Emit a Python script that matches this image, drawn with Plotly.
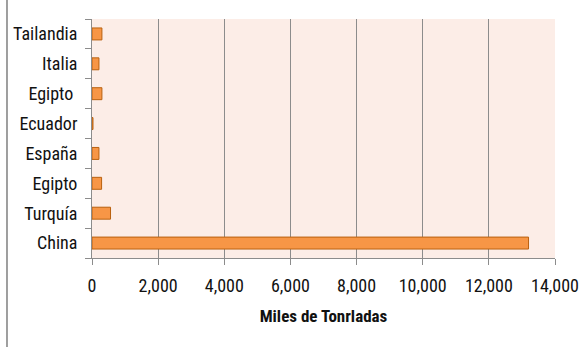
import plotly.graph_objects as go

# Producción por país (miles de toneladas)
paises = ["China", "Turquía", "Egipto", "España", "Ecuador", "Egipto ", "Italia", "Tailandia"]
valores = [13200, 560, 290, 210, 30, 300, 210, 300]
x_ticks = [0, 2000, 4000, 6000, 8000, 10000, 12000, 14000]
x_ticktext = ["0", "2,000", "4,000", "6,000", "8,000", "10,000", "12,000", "14,000"]

font_family = "Liberation Sans Narrow, Roboto Condensed, Arial Narrow, sans-serif"

fig = go.Figure(
    go.Bar(
        x=valores,
        y=paises,
        orientation="h",
        width=0.4,
        marker=dict(color="#F79646", line=dict(color="#B9610F", width=1)),
        hoverinfo="x+y",
    )
)

fig.update_layout(
    width=587,
    height=347,
    margin=dict(l=92, r=32, t=19, b=89),
    paper_bgcolor="white",
    plot_bgcolor="#FCEDE7",
    showlegend=False,
    font=dict(family=font_family, size=18, color="#111111"),
    bargap=0.6,
)

fig.update_xaxes(
    range=[0, 14000],
    tickvals=x_ticks,
    ticktext=x_ticktext,
    showgrid=True,
    gridcolor="#8C8C8C",
    gridwidth=1,
    zeroline=False,
    showline=True,
    linecolor="#8C8C8C",
    ticks="outside",
    ticklen=6,
    tickcolor="#8C8C8C",
    tickfont=dict(size=18),
    ticklabelstandoff=5,
    automargin=False,
    title=dict(
        text="<b>Miles de Tonrladas</b>",
        font=dict(size=17, family=font_family),
        standoff=15,
    ),
)

fig.update_yaxes(
    showline=True,
    linecolor="#8C8C8C",
    ticks="outside",
    tickson="boundaries",
    ticklen=6,
    tickcolor="#8C8C8C",
    showgrid=False,
    tickfont=dict(size=18),
    ticklabelstandoff=10,
    automargin=False,
)

# Left border line of the figure
fig.add_shape(
    type="line",
    xref="paper",
    yref="paper",
    x0=-0.1836,
    x1=-0.1836,
    y0=-0.3731,
    y1=1.08,
    line=dict(color="#7F7F7F", width=1.5),
)

fig.write_html("out.html")
